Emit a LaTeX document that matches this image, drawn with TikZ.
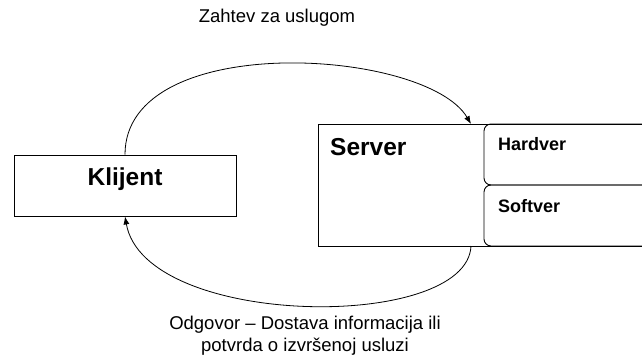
\documentclass[tikz,border=0pt]{standalone}
\usepackage{fontspec}
\setmainfont{Liberation Sans}
\usetikzlibrary{arrows.meta,positioning}
\tikzset{clientbox/.style={
    % The shape:
    rectangle,
    % The size:
    minimum width=222pt,
    minimum height=61pt,
    inner sep=0pt,
    % The border:
    draw=black,
    line width=0.9pt,
    % Font
    font=\bfseries\fontsize{24.5}{29}\selectfont,
    text height=17.5pt,
    text depth=17pt
    },
    boxline/.style={
    draw=black,
    line width=0.9pt,
    },
    partline/.style={
    draw=black,
    line width=0.9pt,
    rounded corners=7pt,
    },
    bigtitle/.style={
    anchor=west,
    inner sep=0pt,
    font=\bfseries\fontsize{24.5}{29}\selectfont,
    },
    parttitle/.style={
    anchor=west,
    inner sep=0pt,
    font=\bfseries\fontsize{18}{22}\selectfont,
    },
    msg/.style={
    font=\fontsize{18.5}{22}\selectfont,
    align=center,
    inner sep=0pt,
    },
    flow/.style={
    line width=0.8pt,
    -{Latex[length=8pt,width=6pt]},
    },
}

\begin{document}
\begin{tikzpicture}[x=1pt,y=-1pt]
    \useasboundingbox (0,0) rectangle (642,362);

    \node (klijent) [clientbox] at (125,185.5) {Klijent};

    % server with its two parts, cut off on the right
    \draw[boxline] (642,124) -- (318,124) -- (318,246) -- (642,246);
    \draw[partline] (642,124) -- (484,124) -- (484,185) -- (642,185);
    \draw[partline] (642,185) -- (484,185) -- (484,246) -- (642,246);
    \node (server)  [bigtitle]  at (330,147) {Server};
    \node (hardver) [parttitle] at (498,144) {Hardver};
    \node (softver) [parttitle] at (498,206) {Softver};

    \coordinate (srvin)  at (471,124);
    \coordinate (srvout) at (471,246);

    \node (zahtev)  [msg] at (277,18) {Zahtev za uslugom};
    \node (odgovor) [msg] at (305,336) {Odgovor -- Dostava informacija ili\\potvrda o izvršenoj usluzi};

    \draw[flow] (klijent.north) .. controls +(0,-125) and +(-45,-76) .. (srvin);
    \draw[flow] (srvout) .. controls +(-4,86) and +(20,112) .. (klijent.south);
\end{tikzpicture}
\end{document}
